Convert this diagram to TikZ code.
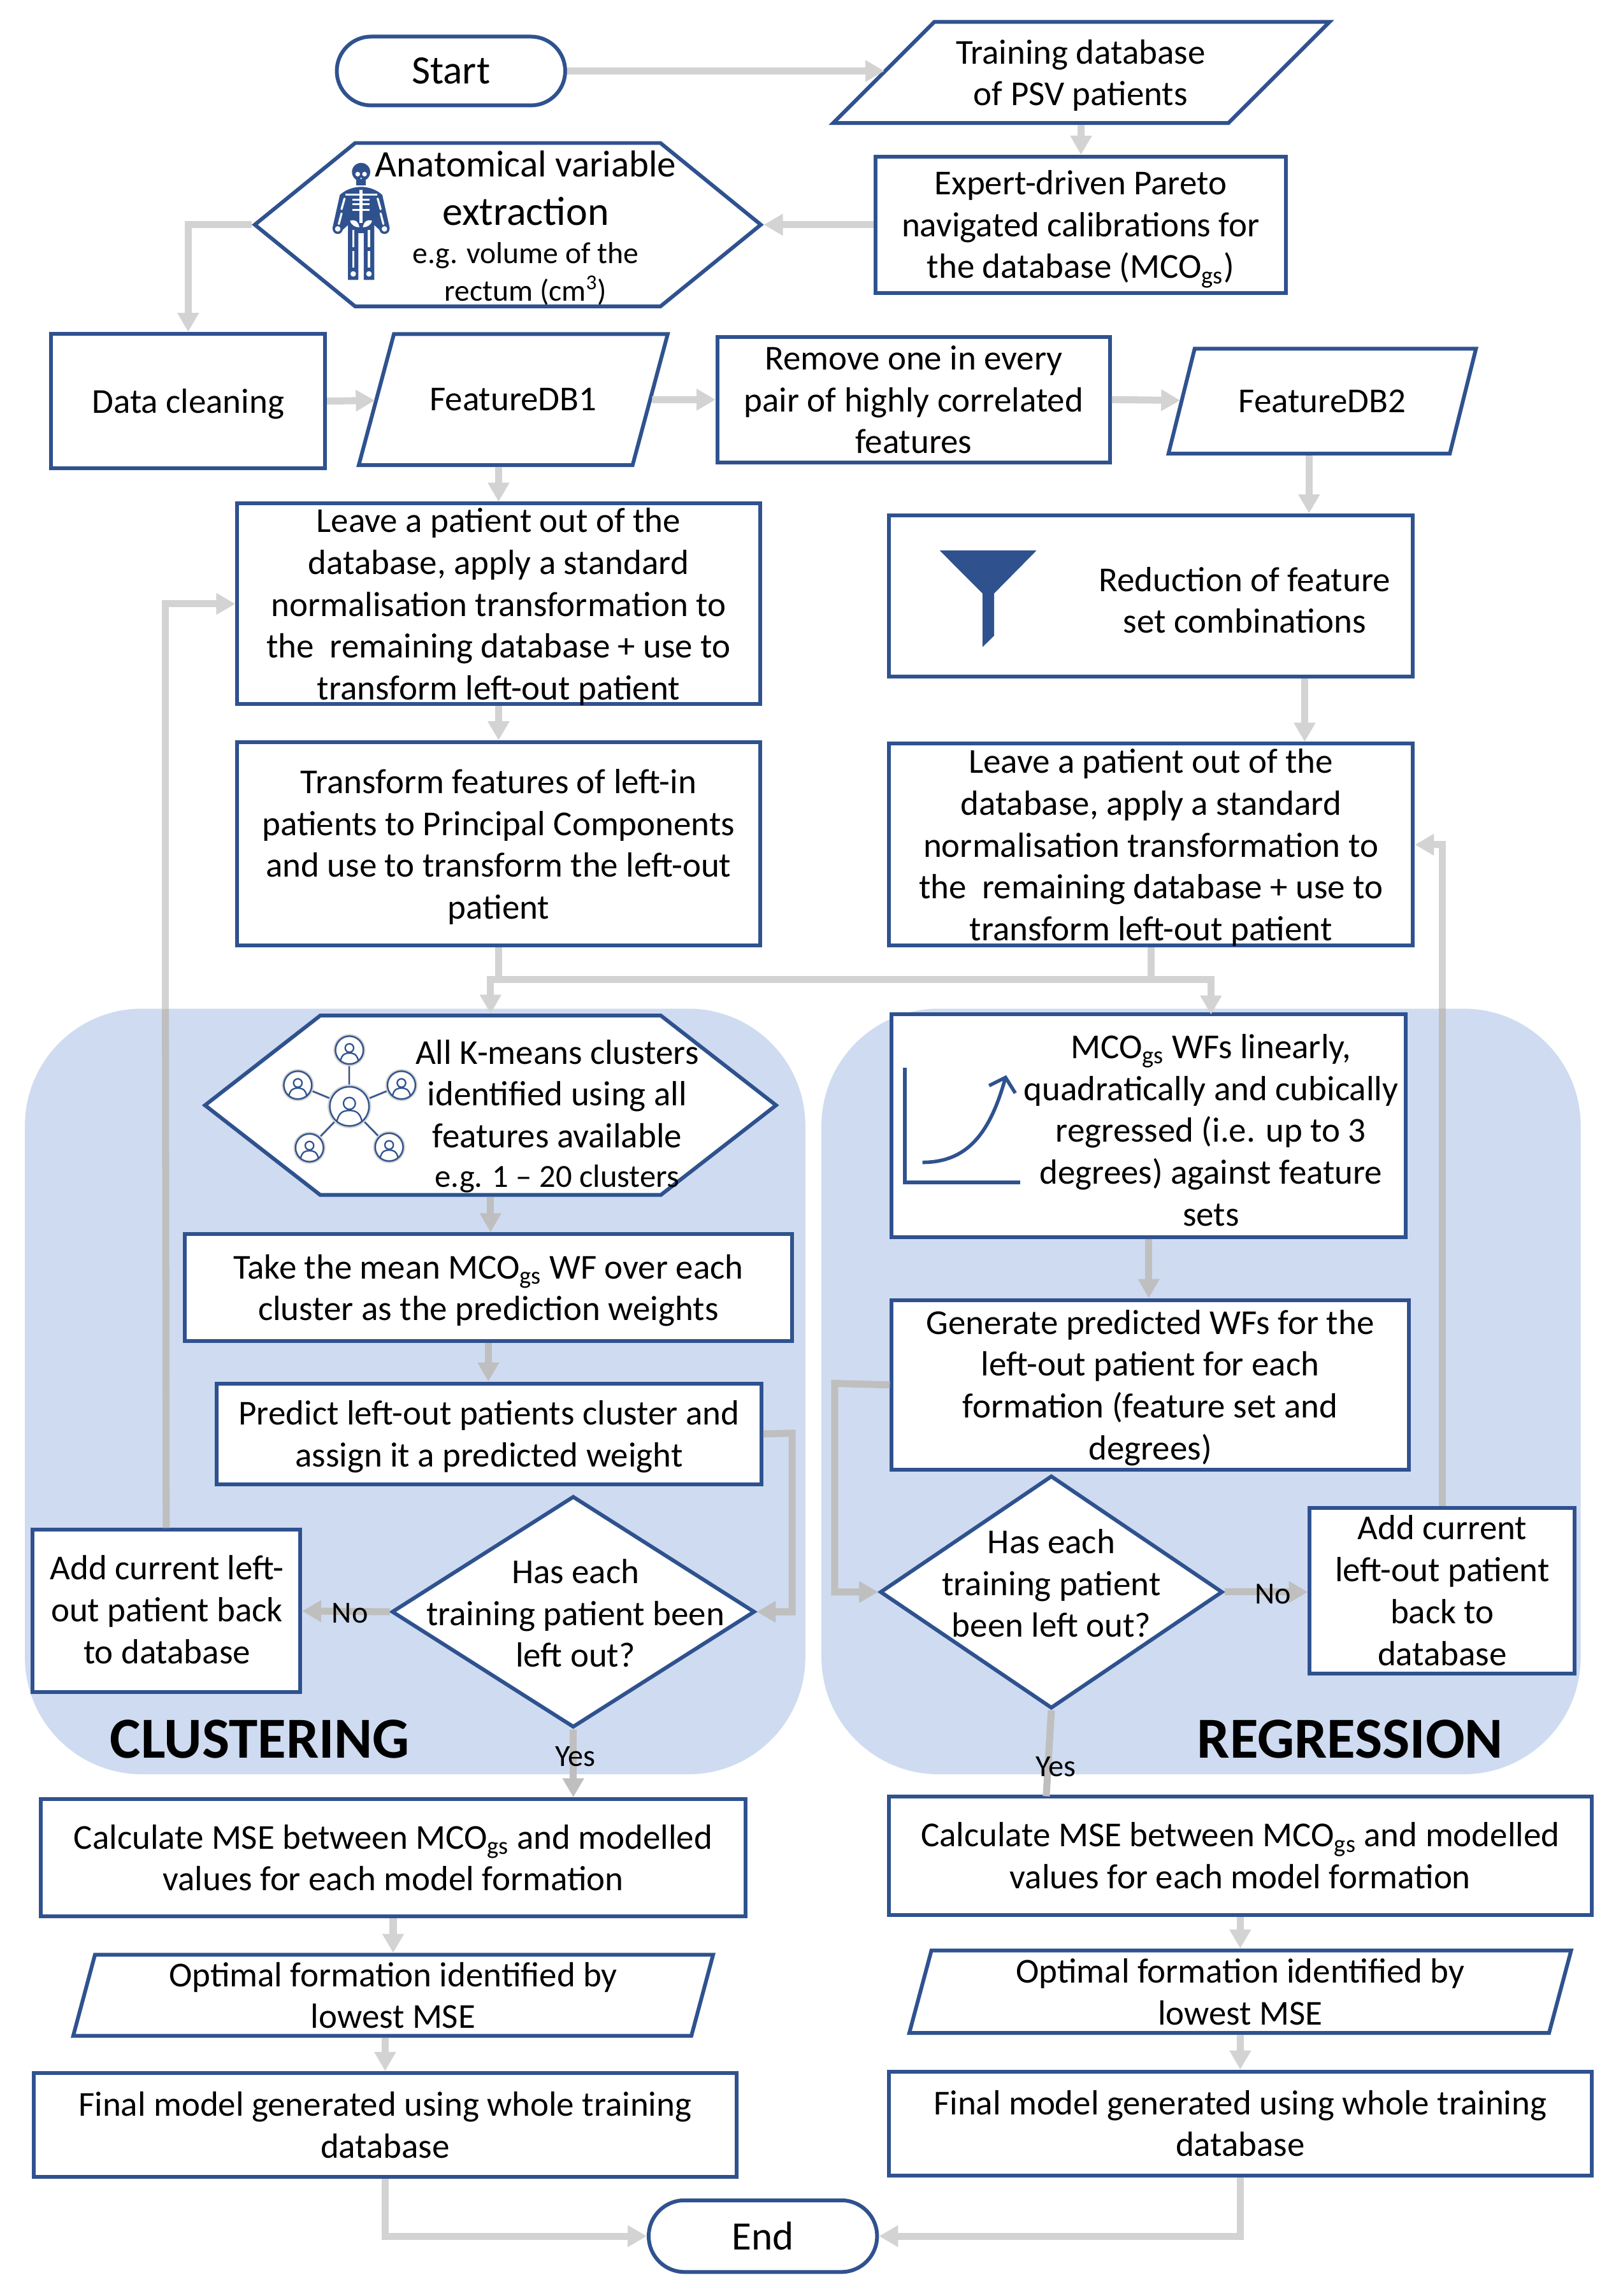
\documentclass[tikz,border=0pt]{standalone}
\usepackage{fontspec}
\setmainfont{Carlito}
\usetikzlibrary{shapes.geometric,shapes.misc,shapes.symbols,arrows.meta}
\definecolor{navy}{HTML}{2F528F}
\definecolor{panel}{HTML}{CFDBF0}
\definecolor{flowgray}{HTML}{D3D3D3}
\definecolor{flowdark}{HTML}{BFBFBF}
\newcommand{\bodyfont}{\fontsize{23.9}{28.6}\selectfont}
\newcommand{\personicon}[3]{%
  \begin{scope}[shift={(#1,#2)},scale=#3]
    \draw[flowgray, line width=2.2pt, fill=white] (0,0) circle (68);
    \draw[navy, line width=1pt] (0,0) circle (66);
    \draw[navy, line width=1pt] (0,-10) circle (20);
    \draw[navy, line width=1pt] (-42,50) .. controls (-35,18) and (-18,14) .. (0,14) .. controls (18,14) and (35,18) .. (42,50);
  \end{scope}}

\begin{document}
\begin{tikzpicture}[
        x=1pt, y=-1pt,
        box/.style={rectangle, draw=navy, fill=white, line width=2.6pt, inner sep=0pt, align=center, font=\bodyfont},
        para/.style={trapezium, trapezium stretches body=true, draw=navy, fill=white, line width=2.6pt, inner xsep=0pt, align=center, font=\bodyfont},
        hexa/.style={signal, signal to=west and east, draw=navy, fill=white, line width=2.6pt, inner sep=0pt},
        dmd/.style={diamond, draw=navy, fill=white, line width=2.6pt, inner sep=0pt},
        term/.style={rounded rectangle, draw=navy, fill=white, line width=2.6pt, inner sep=0pt, font=\fontsize{27.5}{30}\selectfont},
        txt/.style={inner sep=0pt, align=center, font=\bodyfont},
        tag/.style={inner sep=0pt, font=\fontsize{21}{25}\selectfont},
        title/.style={inner sep=0pt, font=\fontsize{39.7}{44}\selectfont\bfseries},
        flow/.style={->, >={Triangle[width=14pt,length=13pt]}, draw=flowgray, line width=4.8pt},
        flowdk/.style={flow, draw=flowdark}
    ]
        \useasboundingbox (0,0) rectangle (1108,1568.4);

        % Panels
        \fill[panel, rounded corners=80pt] (17,689) rectangle (550,1212);
        \fill[panel, rounded corners=80pt] (561,689) rectangle (1079.5,1212);
        \node[title] (clustitle) at (177.5,1188) {CLUSTERING};
        \node[title] (regtitle) at (922,1188) {REGRESSION};

        % Top of the chart
        \node[term, minimum width=156pt, minimum height=47pt] (start) at (308,48.5) {Start};
        \node[para, inner ysep=34.5pt, trapezium left angle=45, trapezium right angle=135, minimum width=339pt] (traindb) at (738.5,49.5) {};
        \node[txt] (traintxt) at (738,51.5) {Training database\\of PSV patients};
        \node[box, minimum width=280pt, minimum height=93pt] (expert) at (738,153.5) {};
        \node[txt] (experttxt) at (738,156.5) {Expert-driven Pareto\\navigated calibrations for\\the database (MCO\textsubscript{gs})};
        \node[hexa, signal pointer angle=78.3, minimum width=345.6pt, minimum height=111.6pt] (anat) at (346.8,153.5) {};
        \node[txt, font=\fontsize{25.6}{33}\selectfont] (anattxt) at (359,128.5) {Anatomical variable\\{\fontsize{27.8}{33}\selectfont extraction}};
        \node[txt, font=\fontsize{20.7}{25.5}\selectfont] (anatsub) at (359,187) {e.g. volume of the\\rectum (cm\textsuperscript{3})};
        \node[box, minimum width=187pt, minimum height=92pt] (cleaning) at (128.5,274) {};
        \node[txt] (cleantxt) at (128.5,276) {Data cleaning};
        \node[para, inner ysep=37pt, trapezium left angle=75, trapezium right angle=105, minimum width=211pt] (feat1) at (350.5,273) {FeatureDB1};
        \node[box, minimum width=268pt, minimum height=86pt] (remove) at (624,273) {Remove one in every\\pair of highly correlated\\features};
        \node[para, inner ysep=28pt, trapezium left angle=76, trapezium right angle=104, minimum width=210pt] (feat2) at (903,274) {FeatureDB2};

        % Left column
        \node[box, minimum width=357pt, minimum height=137pt] (leave1) at (340.5,412.5) {};
        \node[txt] (leave1txt) at (340.5,414.5) {Leave a patient out of the\\database, apply a standard\\normalisation transformation to\\the\ \ remaining database + use to\\transform left-out patient};
        \node[box, minimum width=357pt, minimum height=139pt] (transform) at (340.5,576.5) {};
        \node[txt] (transtxt) at (340.5,578.5) {Transform features of left-in\\patients to Principal Components\\and use to transform the left-out\\patient};
        \node[hexa, signal pointer angle=75.8, minimum width=390pt, minimum height=122.5pt] (kmeans) at (335,755) {};
        \node[txt] (kmeanstxt) at (380.5,762.5) {All K-means clusters\\identified using all\\features available\\[-1.5pt]{\fontsize{22}{28}\selectfont e.g. 1 -- 20 clusters}};
        \node[box, minimum width=415pt, minimum height=73pt] (takemean) at (333.5,879.5) {};
        \node[txt] (meantxt) at (333.5,881.5) {Take the mean MCO\textsubscript{gs} WF over each\\cluster as the prediction weights};
        \node[box, minimum width=372pt, minimum height=69pt] (predict) at (334,979.5) {};
        \node[txt] (predtxt) at (334,981.5) {Predict left-out patients cluster and\\assign it a predicted weight};
        \node[dmd, minimum width=248pt, minimum height=158pt] (hasL) at (391.5,1101) {};
        \node[txt] (hasLtxt) at (393,1102) {Has each\\training patient been\\left out?};
        \node[box, minimum width=183pt, minimum height=111pt] (addL) at (113.5,1100.5) {};
        \node[txt] (addLtxt) at (114,1099.5) {Add current left-\\out patient back\\to database};
        \node[box, minimum width=481pt, minimum height=80pt] (calcL) at (268.5,1269) {Calculate MSE between MCO\textsubscript{gs} and modelled\\values for each model formation};
        \node[para, inner ysep=5pt, trapezium left angle=75, trapezium right angle=105, minimum width=437pt] (optL) at (268.5,1363) {Optimal formation identified by\\lowest MSE};
        \node[box, minimum width=480pt, minimum height=71pt] (finalL) at (263,1451.5) {Final model generated using whole training\\database};

        % Right column
        \node[box, minimum width=358pt, minimum height=110pt] (reduce) at (786,407) {};
        \node[txt] (reducetxt) at (850,410) {Reduction of feature\\set combinations};
        \node[box, minimum width=358pt, minimum height=138pt] (leave2) at (786,577) {};
        \node[txt] (leave2txt) at (786,579) {Leave a patient out of the\\database, apply a standard\\normalisation transformation to\\the\ \ remaining database + use to\\transform left-out patient};
        \node[box, minimum width=351pt, minimum height=152pt] (mcoreg) at (784.5,769) {};
        \node[txt] (mcoregtxt) at (827,772) {MCO\textsubscript{gs} WFs linearly,\\quadratically and cubically\\regressed (i.e. up to 3\\degrees) against feature\\sets};
        \node[box, minimum width=353pt, minimum height=116pt] (gen) at (785.5,946) {};
        \node[txt] (gentxt) at (785.5,948) {Generate predicted WFs for the\\left-out patient for each\\formation (feature set and\\degrees)};
        \node[dmd, minimum width=234pt, minimum height=159pt] (hasR) at (718,1087.5) {};
        \node[txt] (hasRtxt) at (718,1081.5) {Has each\\training patient\\been left out?};
        \node[box, minimum width=181pt, minimum height=113pt] (addR) at (985,1086.5) {Add current\\left-out patient\\back to\\database};
        \node[box, minimum width=480pt, minimum height=81pt] (calcR) at (847,1267.5) {Calculate MSE between MCO\textsubscript{gs} and modelled\\values for each model formation};
        \node[para, inner ysep=5.5pt, trapezium left angle=75, trapezium right angle=105, minimum width=452pt] (optR) at (847,1360.5) {Optimal formation identified by\\lowest MSE};
        \node[box, minimum width=480pt, minimum height=71pt] (finalR) at (847,1450.5) {Final model generated using whole training\\database};
        \node[term, minimum width=156pt, minimum height=49pt] (end) at (521,1527.5) {End};

        % Bends and joins
        \coordinate (split) at (340.5,669);
        \coordinate (trainin) at (604,48.5);
        \coordinate (feat1in) at (256,273.5);
        \coordinate (feat2in) at (806,273.5);
        \coordinate (loopL) at (541,979);
        \coordinate (loopR) at (570,945);
        \coordinate (retL) at (113,689);
        \coordinate (retR) at (985,689);
        \coordinate (yesR) at (714.5,1227);

        % Edges
        \draw[flow] (start) -- (trainin);
        \draw[flow] (traindb) -- (expert);
        \draw[flow] (expert.west) -- (anat.east);
        \draw[flow] (anat.west) -| (cleaning.north);
        \draw[flow] (cleaning.east) -- (feat1in);
        \draw[flow] (feat1.east) -- (remove.west);
        \draw[flow] (remove.east) -- (feat2in);
        \draw[flow] (leave1.north |- feat1.south) -- (leave1.north);
        \draw[flow] ([xshift=108pt]reduce.north |- feat2.south) -- ([xshift=108pt]reduce.north);
        \draw[flow] (leave1) -- (transform);
        \draw[flow] ([xshift=105pt]reduce.south) -- ([xshift=105pt]reduce.south |- leave2.north);
        \draw[flow, -] (transform.south) -- (split);
        \draw[flow, -] (leave2.south) -- (leave2.south |- split);
        \draw[flow] (split) -| (kmeans.north);
        \draw[flow] (split) -| (827,693);
        \draw[flowdk] (kmeans) -- (kmeans |- takemean.north);
        \draw[flowdk] (takemean) -- (takemean |- predict.north);
        \draw[flowdk] (predict.east) -- (loopL) |- (hasL.east);
        \draw[flowdk] (hasL.west) -- (addL.east);
        \draw[flowdk, -] (addL.north) -- (retL);
        \draw[flow] (retL) |- (leave1.west);
        \draw[flowdk] (hasL.south) -- (hasL.south |- calcL.north);
        \draw[flow] (calcL) -- (optL);
        \draw[flow] (finalL.north |- optL.south) -- (finalL.north);
        \draw[flow] (finalL.south) |- (end.west);
        \draw[flowdk] (mcoreg) -- (mcoreg |- gen.north);
        \draw[flowdk] (gen.west) -- (loopR) |- (hasR.west);
        \draw[flowdk] (hasR.east) -- (addR.west |- hasR.east);
        \draw[flowdk, -] (addR.north) -- (retR);
        \draw[flow] (retR) |- (leave2.east);
        \draw[flowdk, -] (hasR.south) -- (yesR);
        \draw[flow] (calcR) -- (optR);
        \draw[flow] (optR) -- (finalR);
        \draw[flow] (finalR.south) |- (end.east);

        % Labels
        \node[tag] (noL) at (239,1102) {No};
        \node[tag] (yesL) at (393,1200) {Yes};
        \node[tag] (noR) at (869.5,1089) {No};
        \node[tag] (yesRtag) at (721,1207) {Yes};

        % Skeleton
        \begin{scope}[shift={(217.6,100.1)}, x=0.145pt, y=-0.145pt]
            \fill[navy] (200,120) circle (43);
            \fill[navy] (178,150) rectangle (222,183);
            \fill[navy] (100,228) .. controls (130,200) and (170,190) .. (200,190) .. controls (230,190) and (270,200) .. (300,228) -- (335,385) -- (300,405) -- (262,370) -- (262,628) -- (213,628) -- (213,408) -- (187,408) -- (187,628) -- (138,628) -- (138,370) -- (100,405) -- (65,385) -- cycle;
            \draw[white, line width=1.4pt] (125,226) -- (275,226);
            \draw[white, line width=2pt] (200,205) -- (200,360);
            \foreach \ribY in {250,272,298}
                \draw[white, line width=1.4pt] (160,\ribY) -- (240,\ribY);
            \foreach \sgn in {-1,1} {
                \fill[white] ({200+\sgn*16},130) circle (11);
                \fill[navy] ({200+\sgn*110},388) circle (24);
                \fill[white] ({200+\sgn*110},388) circle (13);
                \fill[white] ({200+\sgn*37},600) circle (13);
                \draw[white, line width=1.4pt, line cap=round] ({200+\sgn*78},245) -- ({200+\sgn*92},295);
                \draw[white, line width=1.4pt, line cap=round] ({200+\sgn*92},315) -- ({200+\sgn*105},365);
                \draw[white, line width=1.4pt] ({200+\sgn*37},392) -- ({200+\sgn*37},475);
                \draw[white, line width=1.4pt] ({200+\sgn*37},492) -- ({200+\sgn*37},570);
                \fill[white] ({200+\sgn*8},380) .. controls ({200+\sgn*15},350) and ({200+\sgn*30},342) .. ({200+\sgn*52},350) .. controls ({200+\sgn*45},372) and ({200+\sgn*25},382) .. ({200+\sgn*8},380);
            }
            \fill[white] (200,150) circle (4);
        \end{scope}

        % Cluster of people
        \begin{scope}[shift={(182.8,696.3)}, x=0.145pt, y=-0.145pt]
            \foreach \spokeX/\spokeY in {385/145, 630/310, 572/602, 197/605, 142/310} {
                \draw[flowgray, line width=1.8pt] (385,410) -- (\spokeX,\spokeY);
                \draw[navy, line width=1pt] (385,410) -- (\spokeX,\spokeY);
            }
            \personicon{385}{145}{1}
            \personicon{630}{310}{1}
            \personicon{572}{602}{1}
            \personicon{197}{605}{1}
            \personicon{142}{310}{1}
            \personicon{385}{410}{1.4}
        \end{scope}

        % Funnel
        \fill[navy] (641.7,376) -- (707.9,376) -- (678.9,405.4) -- (678.9,434.3) -- (671,442) -- (671,405.4) -- cycle;

        % Regression curve
        \draw[navy, line width=2.4pt] (618,729.2) -- (618,807.6) -- (696.7,807.6);
        \draw[navy, line width=2.4pt] (630,794) .. controls (660,794) and (676,775) .. (686.7,736);
        \draw[navy, line width=2.4pt] (675.5,741.6) -- (686.7,736) -- (693.4,746.7);
    \end{tikzpicture}
\end{document}
